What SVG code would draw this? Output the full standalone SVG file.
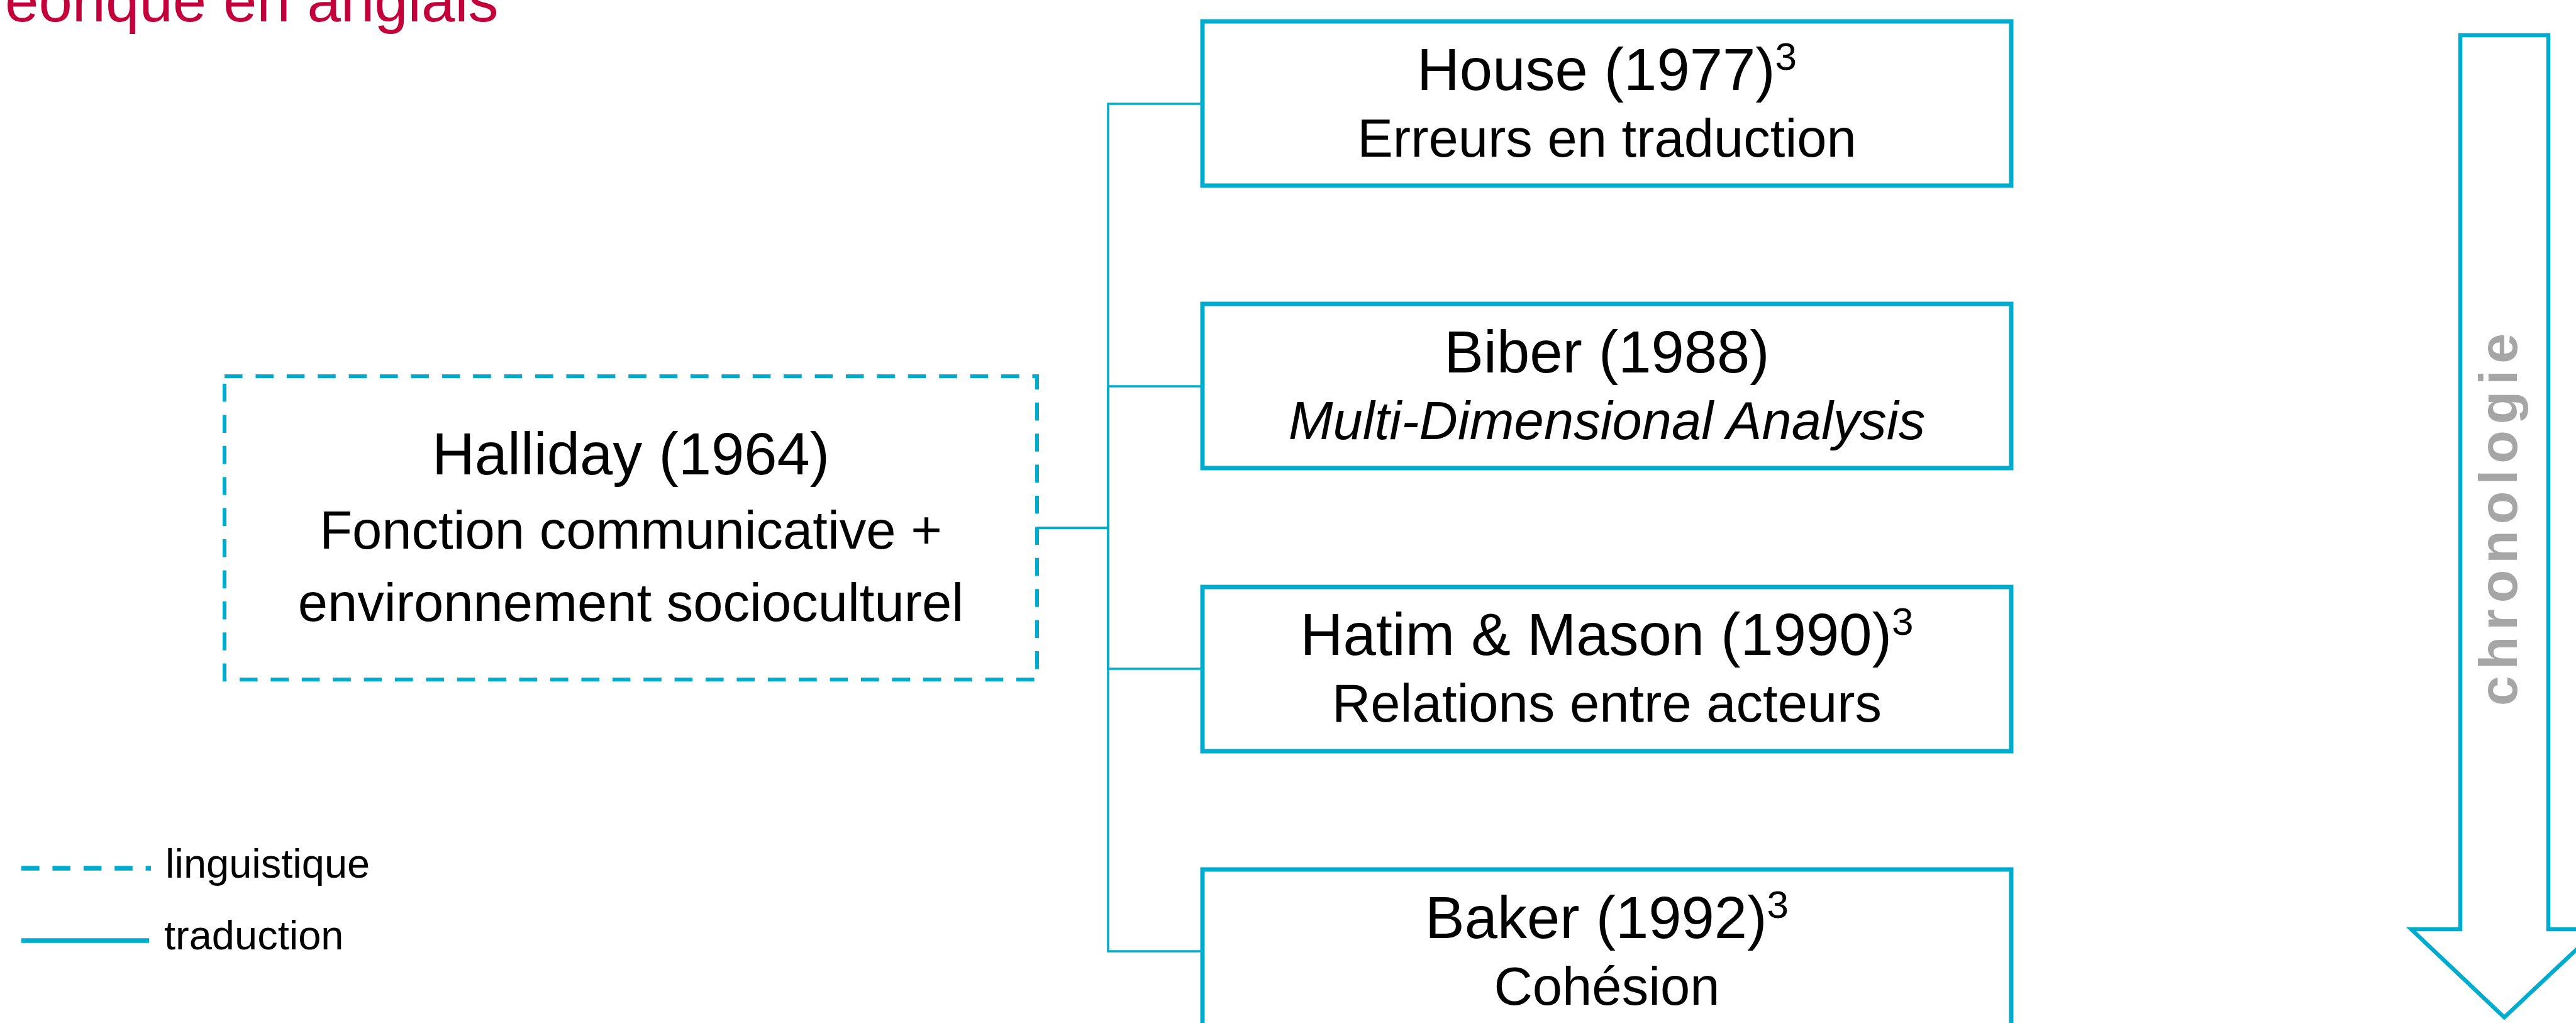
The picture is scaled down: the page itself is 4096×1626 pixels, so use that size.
<svg xmlns="http://www.w3.org/2000/svg" width="4096" height="1626" viewBox="0 0 4096 1626">
<style>
.t{font-family:"Liberation Sans",Arial,sans-serif;fill:#000}
.h1{font-size:94px}
.h2{font-size:85px}
.sup{font-size:62px}
.box{fill:#fff;stroke:#00ACCD;stroke-width:7}
.dbox{fill:#fff;stroke:#00ACCD;stroke-width:6;stroke-dasharray:28.6 20.8}
.conn{fill:none;stroke:#00ACCD;stroke-width:3.5}
.leg{font-size:65px}
</style>
<rect width="4096" height="1626" fill="#fff"/>
<text id="title" x="8" y="34" font-family="Liberation Sans,Arial,sans-serif" font-size="96" fill="#C4003A">eorique en anglais</text>

<g id="connectors">
<path class="conn" d="M1649,839 H1762 V165 H1912"/>
<path class="conn" d="M1649,839 H1762 V614 H1912"/>
<path class="conn" d="M1649,839 H1762 V1063 H1912"/>
<path class="conn" d="M1649,839 H1762 V1512 H1912"/>
</g>

<g id="halliday">
<rect class="dbox" x="357" y="598" width="1292" height="482"/>
<text class="t h1" x="1003" y="754" text-anchor="middle">Halliday (1964)</text>
<text class="t h2" x="1003" y="872" text-anchor="middle">Fonction communicative +</text>
<text class="t h2" x="1003" y="987" text-anchor="middle">environnement socioculturel</text>
</g>

<g id="house">
<rect class="box" x="1912" y="34" width="1286" height="261"/>
<text class="t h1" x="2555" y="143" text-anchor="middle">House (1977)<tspan class="sup" dy="-32">3</tspan></text>
<text class="t h2" x="2555" y="249" text-anchor="middle">Erreurs en traduction</text>
</g>

<g id="biber">
<rect class="box" x="1912" y="483" width="1286" height="261"/>
<text class="t h1" x="2555" y="592" text-anchor="middle">Biber (1988)</text>
<text class="t h2" x="2555" y="698" text-anchor="middle" font-style="italic">Multi-Dimensional Analysis</text>
</g>

<g id="hatim">
<rect class="box" x="1912" y="933" width="1286" height="261"/>
<text class="t h1" x="2555" y="1041" text-anchor="middle">Hatim &amp; Mason (1990)<tspan class="sup" dy="-32">3</tspan></text>
<text class="t h2" x="2555" y="1147" text-anchor="middle">Relations entre acteurs</text>
</g>

<g id="baker">
<rect class="box" x="1912" y="1382" width="1286" height="261"/>
<text class="t h1" x="2555" y="1491" text-anchor="middle">Baker (1992)<tspan class="sup" dy="-32">3</tspan></text>
<text class="t h2" x="2555" y="1597" text-anchor="middle">Cohésion</text>
</g>

<g id="chronologie">
<path d="M3912,1477 V56 H4052 V1477 H4131 L3982,1617 L3834,1477 Z" fill="#fff" stroke="#00ACCD" stroke-width="6.5" stroke-linejoin="miter"/>
<text transform="translate(4002,821) rotate(-90)" text-anchor="middle" font-family="Liberation Sans,Arial,sans-serif" font-weight="bold" font-size="86" letter-spacing="10" fill="#A6A6A6">chronologie</text>
</g>

<g id="legend">
<line x1="34" y1="1380" x2="240" y2="1380" stroke="#00ACCD" stroke-width="7.5" stroke-dasharray="28.6 20.8"/>
<text class="t leg" x="263" y="1395">linguistique</text>
<line x1="34" y1="1495" x2="237" y2="1495" stroke="#00ACCD" stroke-width="7.5"/>
<text class="t leg" x="261" y="1509">traduction</text>
</g>
</svg>
